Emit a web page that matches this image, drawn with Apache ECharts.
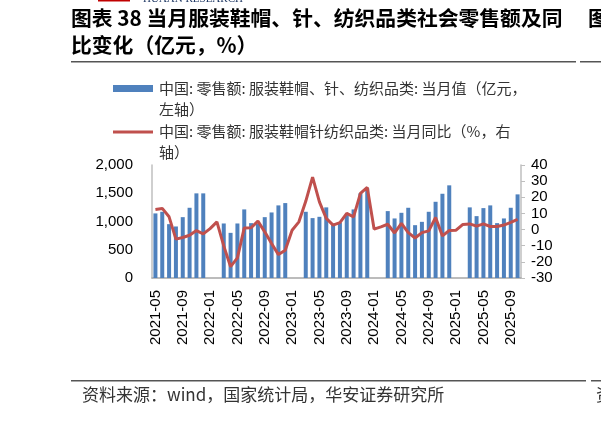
<!DOCTYPE html>
<html>
<head>
<meta charset="utf-8">
<script src="https://cdn.jsdelivr.net/npm/echarts@6/dist/echarts.min.js"></script>
<style>
  html, body { margin: 0; padding: 0; background: #fff; }
  #main { width: 601px; height: 441px; }
</style>
</head>
<body>
<div id="main"></div>
<script>
// 月份
var months = [
  '2021-05','2021-06','2021-07','2021-08','2021-09','2021-10','2021-11','2021-12',
  '2022-01','2022-02','2022-03','2022-04','2022-05','2022-06','2022-07','2022-08','2022-09','2022-10','2022-11','2022-12',
  '2023-01','2023-02','2023-03','2023-04','2023-05','2023-06','2023-07','2023-08','2023-09','2023-10','2023-11','2023-12',
  '2024-01','2024-02','2024-03','2024-04','2024-05','2024-06','2024-07','2024-08','2024-09','2024-10','2024-11','2024-12',
  '2025-01','2025-02','2025-03','2025-04','2025-05','2025-06','2025-07','2025-08','2025-09','2025-10'
];
// 当月值（亿元），1、2月无数据
var retailValue = [
  1143, 1172, 953, 912, 1077, 1243, 1498, 1498,
  null, null, 965, 799, 965, 1214, 971, 959, 1077, 1160, 1285, 1326,
  null, null, 1172, 1060, 1083, 1250, 965, 980, 1113, 1214, 1498, 1587,
  null, null, 1184, 1054, 1154, 1243, 935, 994, 1172, 1349, 1491, 1640,
  null, null, 1250, 1095, 1237, 1285, 971, 1054, 1243, 1480
];
// 当月同比（%）
var retailYoy = [
  12.5, 13.1, 7.9, -5.9, -4.9, -3.5, -0.6, -2.7,
  0.6, 4.8, -10.1, -23, -17.5, 1.0, 1.1, 5.2, -1.4, -8.6, -15.5, -12.8,
  -0.4, 4.8, 17.5, 32.5, 17.2, 6.9, 2.8, 4.3, 10.0, 7.9, 22.4, 26.1,
  0.3, 1.7, 3.3, -2.1, 3.9, -1.9, -5.2, -1.9, -0.8, 7.5, -3.9, -0.6,
  -0.4, 3.2, 3.5, 2.1, 3.5, 1.9, 1.9, 2.8, 4.4, 6.3
];
var leftTicks = { min: 0, max: 2000, step: 500 };
var rightTicks = { min: -30, max: 40, step: 10 };

var latin = '"Liberation Sans", Arial, "Noto Sans CJK SC"';
var cjk = '"Noto Sans CJK SC", "Liberation Sans"';
var blue = '#4F81BD';
var red = '#C0504D';

var chart = echarts.init(document.getElementById('main'), null, { renderer: 'canvas' });

chart.setOption({
  backgroundColor: '#fff',
  animation: false,
  grid: { left: 152, right: 80, top: 165, bottom: 163, containLabel: false },
  xAxis: {
    type: 'category',
    data: months,
    axisLine: { lineStyle: { color: '#a6a6a6', width: 1.5 } },
    axisTick: { show: false },
    axisLabel: {
      interval: 3,
      rotate: 90,
      margin: 12,
      fontSize: 15,
      color: '#000',
      fontFamily: latin
    }
  },
  yAxis: [
    {
      type: 'value',
      min: leftTicks.min, max: leftTicks.max, interval: leftTicks.step,
      splitLine: { show: false },
      axisLine: { show: true, lineStyle: { color: '#bfbfbf', width: 1.5 } },
      axisTick: { show: false },
      axisLabel: {
        margin: 19, fontSize: 15, color: '#000', fontFamily: latin,
        formatter: function (v) { return String(v).replace(/\B(?=(\d{3})+(?!\d))/g, ','); }
      }
    },
    {
      type: 'value',
      min: rightTicks.min, max: rightTicks.max, interval: rightTicks.step,
      splitLine: { show: false },
      axisLine: { show: true, lineStyle: { color: '#bfbfbf', width: 1.5 } },
      axisTick: { show: true, length: 4, lineStyle: { color: '#bfbfbf' } },
      axisLabel: { margin: 10, fontSize: 15, color: '#000', fontFamily: latin }
    }
  ],
  series: [
    {
      name: '当月值',
      type: 'bar',
      yAxisIndex: 0,
      data: retailValue,
      barWidth: 4,
      itemStyle: { color: blue }
    },
    {
      name: '当月同比',
      type: 'line',
      yAxisIndex: 1,
      data: retailYoy,
      showSymbol: false,
      symbol: 'none',
      lineStyle: { color: red, width: 3 },
      z: 3
    }
  ],
  graphic: [
    // 顶部 logo 残留
    { type: 'rect', shape: { x: 98, y: 0, width: 32, height: 1.5 }, style: { fill: '#c00000' } },
    { type: 'text', left: 143, top: -6, style: { text: 'HUAAN RESEARCH', font: '11px "Liberation Serif"', fill: '#1f3864' } },
    // 标题
    { type: 'text', left: 71, top: 8, style: { text: '图表 38 当月服装鞋帽、针、纺织品类社会零售额及同', font: 'bold 20.8px ' + cjk, fill: '#000' } },
    { type: 'text', left: 71, top: 35, style: { text: '比变化（亿元，%）', font: 'bold 20.8px ' + cjk, fill: '#000' } },
    { type: 'text', left: 588, top: 8, style: { text: '图', font: 'bold 20.8px ' + cjk, fill: '#000' } },
    { type: 'rect', shape: { x: 71, y: 61, width: 505, height: 1.5 }, style: { fill: '#555' } },
    { type: 'rect', shape: { x: 580, y: 61, width: 21, height: 1.5 }, style: { fill: '#555' } },
    // 图例
    { type: 'rect', shape: { x: 113, y: 85, width: 40, height: 7 }, style: { fill: blue } },
    { type: 'text', left: 159, top: 78, style: { text: '中国: 零售额: 服装鞋帽、针、纺织品类: 当月值（亿元，\n左轴）', font: '15px ' + cjk, fill: '#333', lineHeight: 21 } },
    { type: 'rect', shape: { x: 113, y: 130.5, width: 40, height: 3 }, style: { fill: red } },
    { type: 'text', left: 159, top: 121, style: { text: '中国: 零售额: 服装鞋帽针纺织品类: 当月同比（%，右\n轴）', font: '15px ' + cjk, fill: '#333', lineHeight: 21 } },
    // 底部来源
    { type: 'rect', shape: { x: 71, y: 380, width: 515, height: 1.5 }, style: { fill: '#555' } },
    { type: 'rect', shape: { x: 591, y: 380, width: 10, height: 1.5 }, style: { fill: '#555' } },
    { type: 'text', left: 82, top: 386, style: { text: '资料来源：wind，国家统计局，华安证券研究所', font: '17px ' + cjk, fill: '#333' } },
    { type: 'text', left: 596, top: 386, style: { text: '资', font: '17px ' + cjk, fill: '#333' } }
  ]
});
</script>
</body>
</html>
